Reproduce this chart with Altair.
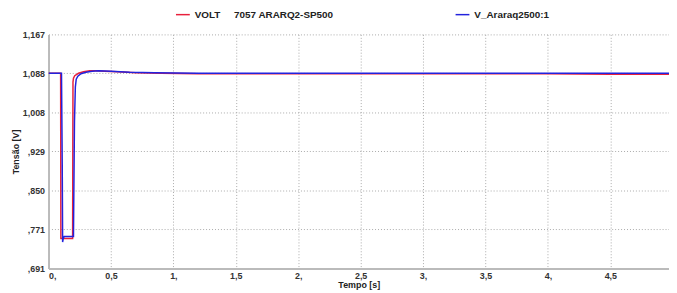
import altair as alt
import pandas as pd

red_name = "VOLT\u00a0\u00a0\u00a0\u00a0\u00a07057 ARARQ2-SP500"
blue_name = "V_Araraq2500:1"

t_red = [0.0, 0.097, 0.099, 0.105, 0.150, 0.193, 0.196, 0.200, 0.210, 0.240, 0.280, 0.330, 0.380, 0.450, 0.550, 0.700, 0.900, 1.200, 2.000, 3.000, 4.000, 4.500, 4.980]
v_red = [1.088, 1.088, 0.752, 0.752, 0.752, 0.752, 1.070, 1.078, 1.083, 1.088, 1.091, 1.093, 1.093, 1.092, 1.091, 1.089, 1.088, 1.087, 1.087, 1.087, 1.087, 1.086, 1.086]

t_blue = [0.0, 0.104, 0.110, 0.113, 0.118, 0.125, 0.150, 0.200, 0.203, 0.208, 0.215, 0.222, 0.235, 0.260, 0.300, 0.350, 0.400, 0.500, 0.650, 0.850, 1.200, 2.000, 3.000, 4.000, 4.980]
v_blue = [1.088, 1.088, 0.900, 0.745, 0.752, 0.756, 0.756, 0.756, 0.850, 0.990, 1.060, 1.076, 1.082, 1.087, 1.090, 1.092, 1.093, 1.092, 1.090, 1.089, 1.088, 1.088, 1.088, 1.088, 1.088]

y_ticks = [0.691, 0.771, 0.850, 0.929, 1.008, 1.088, 1.167]
x_ticks = [0, 0.5, 1, 1.5, 2, 2.5, 3, 3.5, 4, 4.5]

df = pd.concat([
    pd.DataFrame({"t": t_red, "v": v_red, "s": red_name, "o": 0}),
    pd.DataFrame({"t": t_blue, "v": v_blue, "s": blue_name, "o": 1}),
])

font = "Liberation Sans"

chart = alt.Chart(df).mark_line(strokeWidth=1.5, clip=True).encode(
    x=alt.X("t:Q", scale=alt.Scale(domain=[0, 4.97], nice=False, zero=False),
            axis=alt.Axis(values=x_ticks, title="Tempo [s]",
                          labelExpr="floor(datum.value)==datum.value ? format(datum.value,'d')+',' : replace(format(datum.value,'.1f'),'.',',')")),
    y=alt.Y("v:Q", scale=alt.Scale(domain=[0.691, 1.167], nice=False, zero=False),
            axis=alt.Axis(values=y_ticks, title="Tensão [V]",
                          labelExpr="datum.value < 1 ? substring(replace(format(datum.value,'.3f'),'.',','),1) : replace(format(datum.value,'.3f'),'.',',')")),
    color=alt.Color("s:N", scale=alt.Scale(domain=[red_name, blue_name], range=["#e8203c", "#2222dd"]),
                    legend=alt.Legend(title=None, orient="none", legendX=128, legendY=-28,
                                      direction="horizontal", symbolType="stroke", symbolSize=196,
                                      symbolStrokeWidth=1.5, columnPadding=120,
                                      labelFont=font, labelFontWeight="bold", labelFontSize=10,
                                      labelColor="#222")),
    order="o:Q",
).properties(
    width=628, height=237,
    autosize=alt.AutoSizeParams(type="none"),
    padding={"left": 41, "top": 25, "right": 0, "bottom": 23},
).configure_view(stroke=None).configure_axis(
    grid=True, gridColor="#aaaaaa", gridDash=[1, 2], gridWidth=1,
    domainColor="#bbbbbb", domainWidth=2, ticks=False,
    labelFont=font, labelFontWeight="bold", labelFontSize=9, labelColor="#333",
    titleFont=font, titleFontWeight="bold", titleFontSize=9, titleColor="#222",
    labelPadding=4,
).configure_axisY(titlePadding=2).configure_axisX(titlePadding=0, labelPadding=3)

chart.save("out.html", embed_options={"renderer": "svg", "actions": False})
